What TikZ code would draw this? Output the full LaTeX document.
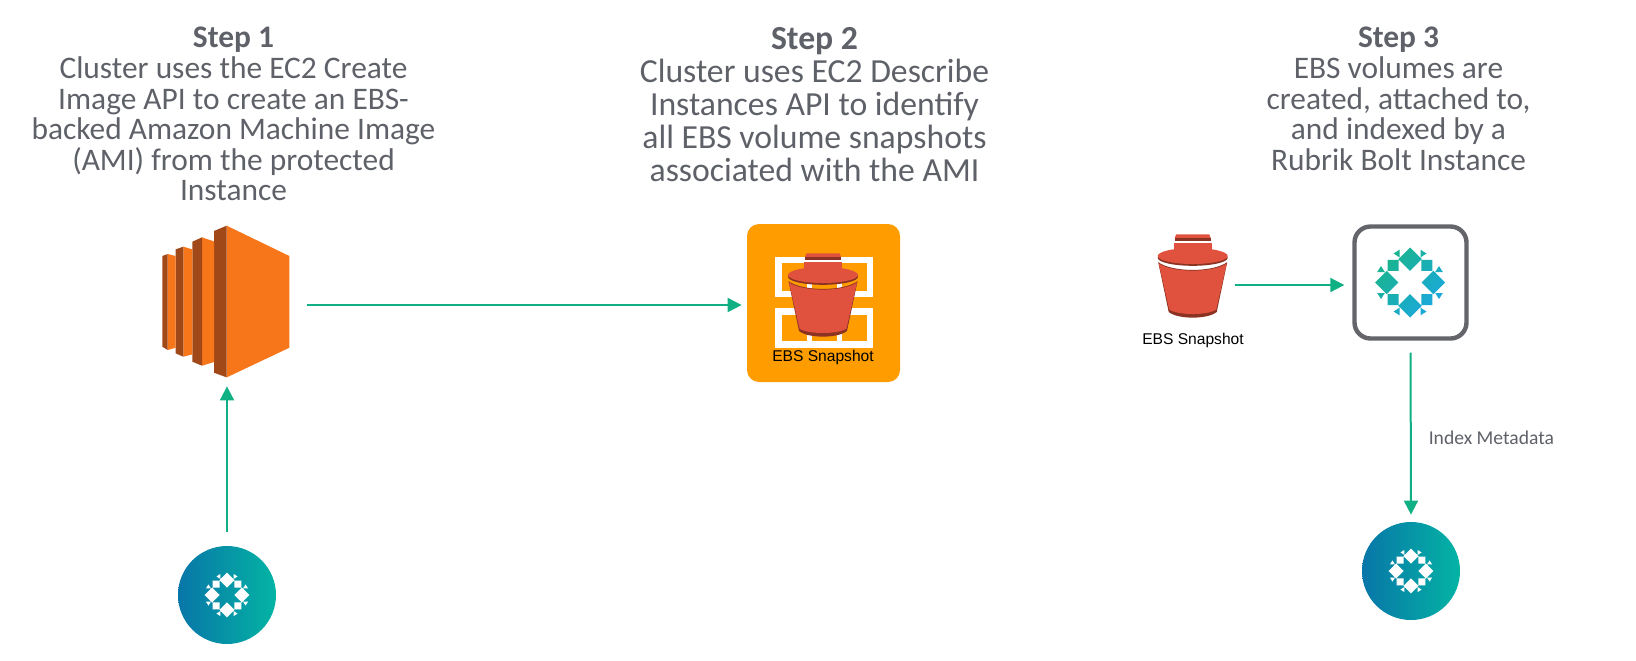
\documentclass[tikz,border=0pt]{standalone}
\usepackage{fontspec}
\setmainfont{Carlito}
\newfontfamily\iconfont{Liberation Sans}
\usetikzlibrary{arrows.meta}
\definecolor{stepgray}{RGB}{95, 97, 105}
\definecolor{flowgreen}{RGB}{16, 176, 132}
\definecolor{ec2orange}{RGB}{247, 118, 26}
\definecolor{ec2brown}{RGB}{160, 72, 24}
\definecolor{snaporange}{RGB}{255, 157, 0}
\definecolor{bucketred}{RGB}{224, 82, 62}
\definecolor{bucketdark}{RGB}{140, 50, 34}
\definecolor{boltgray}{RGB}{100, 101, 107}
\definecolor{bubbleblue}{RGB}{8, 118, 168}
\definecolor{bubbleteal}{RGB}{4, 180, 164}
\definecolor{markgreen}{RGB}{26, 180, 140}
\definecolor{markblue}{RGB}{26, 168, 222}
\tikzset{
  steptext/.style={text=stepgray, align=center, anchor=north, inner sep=0pt},
  flow/.style={draw=flowgreen, line width=1pt, -{Triangle[length=7pt,width=7pt]}},
  iconspot/.style={inner sep=0pt, minimum width=#1, minimum height=#1},
  bubble/.style={circle, inner sep=0pt, minimum size=49pt, left color=bubbleblue, right color=bubbleteal},
  snaplabel/.style={font=\iconfont\fontsize{7.8}{10}\selectfont, text=black, inner sep=0pt, anchor=base}
}
% ring of diamonds, squares and small triangles
\newcommand{\rubrikmark}[3]{%
\begin{scope}[shift={#1},x=#2*0.5pt,y=-#2*0.5pt]
\path[#3] (0,-35) -- (11.7,-23.3) -- (0,-11.6) -- (-11.7,-23.3) -- cycle
  (0,35) -- (11.7,23.3) -- (0,11.6) -- (-11.7,23.3) -- cycle
  (-35,0) -- (-23.3,11.7) -- (-11.6,0) -- (-23.3,-11.7) -- cycle
  (35,0) -- (23.3,11.7) -- (11.6,0) -- (23.3,-11.7) -- cycle
  foreach \sx/\sy in {-1/-1,1/-1,-1/1,1/1} {
    ({\sx*11.4},{\sy*11.6}) rectangle ({\sx*22.4},{\sy*22.6})
    ({\sx*16.5},{\sy*29}) -- ({\sx*10.5},{\sy*32.8}) -- ({\sx*10.5},{\sy*25.2}) -- cycle
    ({\sx*29},{\sy*16.5}) -- ({\sx*32.8},{\sy*10.5}) -- ({\sx*25.2},{\sy*10.5}) -- cycle
  };
\end{scope}}
% bucket, origin at the middle of its rim
\newcommand{\ebsbucket}[1]{%
\begin{scope}[shift={#1}]
\fill[bucketred] (-16.5,-21.7) -- (16.5,-21.7) -- (18,-18) -- (-18,-18) -- cycle;
\fill[bucketdark] (-18,-18) rectangle (18,-15.3);
\fill[bucketred] (-19,-12.7) rectangle (19,0);
\fill[bucketdark] (0,1.8) ellipse (35 and 8);
\fill[bucketred] (0,0) ellipse (35 and 8);
\fill[bucketdark] (-34.5,6.2) .. controls (-20,16.5) and (20,16.5) .. (34.5,6.2)
  -- (24,56) .. controls (15,63.5) and (-15,63.5) .. (-24,56) -- cycle;
\fill[bucketred] (-34,7.5) .. controls (-20,17) and (20,17) .. (34,7.5)
  -- (23.5,53.5) .. controls (15,59.5) and (-15,59.5) .. (-23.5,53.5) -- cycle;
\end{scope}}

\begin{document}
\begin{tikzpicture}[x=0.5pt,y=-0.5pt]
\useasboundingbox (0,0) rectangle (1636,660);

% Step texts
\node[steptext, font=\fontsize{15.7}{15.3}\selectfont] (step1) at (233.5,27) {\textbf{Step 1}\\Cluster uses the EC2 Create\\Image API to create an EBS-\\backed Amazon Machine Image\\(AMI) from the protected\\Instance};
\node[steptext, font=\fontsize{16.85}{16.5}\selectfont] (step2) at (814.5,27) {\textbf{Step 2}\\Cluster uses EC2 Describe\\Instances API to identify\\all EBS volume snapshots\\associated with the AMI};
\node[steptext, font=\fontsize{15.7}{15.3}\selectfont] (step3) at (1398.5,27) {\textbf{Step 3}\\EBS volumes are\\created, attached to,\\and indexed by a\\Rubrik Bolt Instance};

% EC2 instance
\node[iconspot=82pt, minimum height=81pt] (ec2) at (225,305) {};
\begin{scope}[shift={(130,200)},x=0.1667pt,y=-0.1667pt]
\fill[ec2orange] (290,77) -- (478,168) -- (478,443) -- (290,532) -- cycle;
\fill[ec2brown] (252,93) -- (290,77) -- (290,532) -- (252,518) -- cycle;
\fill[ec2orange] (216,112) -- (252,124) -- (252,486) -- (216,497) -- cycle;
\fill[ec2brown] (187,125) -- (216,112) -- (216,497) -- (187,485) -- cycle;
\fill[ec2orange] (160,140) -- (187,148) -- (187,463) -- (160,470) -- cycle;
\fill[ec2brown] (137,148) -- (160,140) -- (160,470) -- (137,460) -- cycle;
\fill[ec2orange] (113,162) -- (137,168) -- (137,443) -- (113,450) -- cycle;
\fill[ec2brown] (97,168) -- (113,162) -- (113,450) -- (97,440) -- cycle;
\end{scope}

% Bubble under the instance
\node[bubble] (bubble1) at (227,595) {};
\rubrikmark{(227,595)}{0.64}{fill=white}

% Snapshot tile
\node[fill=snaporange, rounded corners=6pt, inner sep=0pt, minimum width=76.5pt, minimum height=79pt] (snaptile) at (823.5,303) {};
\fill[white] (775,256.7) rectangle (872.7,297);
\fill[white] (775,308) rectangle (872.7,347.7);
\foreach \wx/\wy in {782/263.3,812/263.3,842/263.3,782/315,812/315,842/315}
  \fill[snaporange] (\wx,\wy) rectangle ++(24.5,{\wy<300?27.4:26});
\ebsbucket{(823,275)}
\node[snaplabel] (snaplabel1) at (823,361) {EBS Snapshot};

% Snapshot going to the bolt
\node[iconspot=42pt] (bucket) at (1192.7,285) {};
\ebsbucket{(1192.7,256)}
\node[snaplabel] (snaplabel2) at (1193,344) {EBS Snapshot};

% Bolt instance
\node[draw=boltgray, line width=2.2pt, rounded corners=8pt, fill=white, inner sep=0pt, minimum size=56pt] (bolt) at (1410.5,282.5) {};
\rubrikmark{(1410,282.5)}{1}{left color=markgreen, right color=markblue, shading angle=45}

% Bubble under the bolt
\node[bubble] (bubble2) at (1411,571) {};
\rubrikmark{(1411,571)}{0.64}{fill=white}

% Arrows
\draw[flow, shorten <=7pt] (bubble1.north) -- (bubble1.north |- ec2.south);
\draw[flow, shorten >=2.5pt] (ec2.east) -- (ec2.east -| snaptile.west);
\draw[flow, shorten >=4pt] (bucket.east) -- (bucket.east -| bolt.west);
\draw[flow, shorten <=6pt, shorten >=3.5pt] (bolt.south) -- node[pos=0.535, right=8.5pt, font=\fontsize{9.8}{11}\selectfont, text=stepgray, inner sep=0pt] (indexlabel) {Index Metadata} (bubble2.north);
\end{tikzpicture}
\end{document}
